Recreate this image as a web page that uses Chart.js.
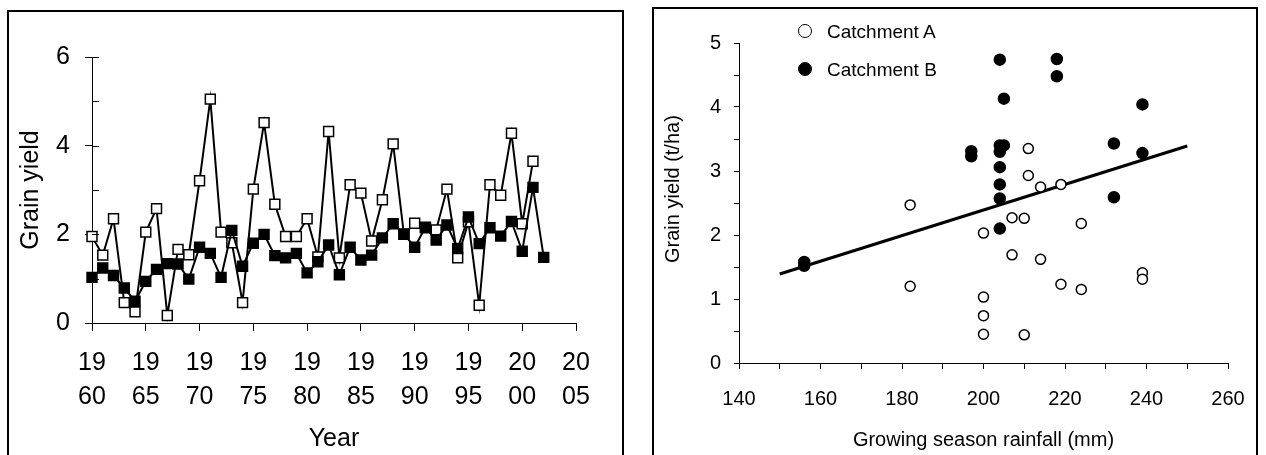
<!DOCTYPE html>
<html>
<head>
<meta charset="utf-8">
<script src="https://cdn.jsdelivr.net/npm/chart.js@4.4.1/dist/chart.umd.min.js"></script>
<style>
  html, body { margin: 0; padding: 0; background: #fff; overflow: hidden; }
  body { width: 1266px; height: 455px; position: relative; font-family: "Liberation Sans", Arial, sans-serif; }
  .box { position: absolute; box-sizing: border-box; border: 2px solid #000; height: 500px; }
  canvas { position: absolute; top: 0; }
  .leg { position: absolute; left: 798px; font-size: 19px; line-height: 20px; color: #000; }
  .leg span.dot { position: absolute; left: 0; top: 0; width: 14px; height: 14px; border-radius: 50%; box-sizing: border-box; border: 1.5px solid #000; }
  .leg span.txt { position: absolute; left: 29px; top: -2px; white-space: nowrap; }
</style>
</head>
<body>
<div class="box" style="left:7px; top:10px; width:617px;"></div>
<div class="box" style="left:652px; top:7px; width:606px;"></div>
<canvas id="yieldByYear" width="640" height="455" style="left:0"></canvas>
<canvas id="yieldVsRain" width="626" height="455" style="left:640px"></canvas>
<div class="leg" style="top:24px"><span class="dot" style="background:#fff"></span><span class="txt">Catchment A</span></div>
<div class="leg" style="top:62px"><span class="dot" style="background:#000"></span><span class="txt">Catchment B</span></div>
<script>
// left panel: grain yield per year
const years = [1960, 1961, 1962, 1963, 1964, 1965, 1966, 1967, 1968, 1969,
  1970, 1971, 1972, 1973, 1974, 1975, 1976, 1977, 1978, 1979,
  1980, 1981, 1982, 1983, 1984, 1985, 1986, 1987, 1988, 1989,
  1990, 1991, 1992, 1993, 1994, 1995, 1996, 1997, 1998, 1999,
  2000, 2001, 2002];
const openYield = [1.95, 1.53, 2.35, 0.46, 0.25, 2.05, 2.58, 0.17, 1.66, 1.54,
  3.21, 5.05, 2.05, 1.81, 0.46, 3.02, 4.52, 2.68, 1.95, 1.95,
  2.35, 1.49, 4.32, 1.47, 3.12, 2.93, 1.85, 2.78, 4.04, 2.00,
  2.25, 2.15, 2.10, 3.02, 1.47, 2.28, 0.40, 3.12, 2.88, 4.28,
  2.24, 3.65, null];
const filledYield = [1.03, 1.24, 1.07, 0.79, 0.49, 0.94, 1.21, 1.34, 1.33, 0.99,
  1.71, 1.57, 1.03, 2.09, 1.28, 1.80, 2.00, 1.52, 1.47, 1.57,
  1.13, 1.38, 1.76, 1.09, 1.71, 1.42, 1.53, 1.92, 2.24, 2.01,
  1.71, 2.16, 1.87, 2.21, 1.68, 2.39, 1.79, 2.15, 1.96, 2.29,
  1.62, 3.06, 1.48];

// right panel: yield vs growing season rainfall
const rainA = [182, 182, 200, 200, 200, 200, 207, 207, 211, 211, 214, 219, 210, 224, 214, 219, 224, 239, 239, 210];
const yieldA = [2.47, 1.20, 2.03, 1.03, 0.74, 0.45, 2.27, 1.69, 3.35, 2.93, 2.75, 2.79, 2.26, 2.18, 1.62, 1.23, 1.15, 1.41, 1.31, 0.44];
const rainB = [156, 156, 197, 197, 204, 204, 204, 204, 204, 204, 204, 205, 205, 218, 218, 232, 232, 239, 239];
const yieldB = [1.58, 1.52, 3.31, 3.23, 4.74, 3.40, 3.30, 3.06, 2.79, 2.57, 2.10, 4.13, 3.40, 4.75, 4.48, 3.43, 2.59, 4.04, 3.28];
const trendRain = [150, 250];
const trendYield = [1.39, 3.39];

const FONT = '"Liberation Sans", Arial, sans-serif';
Chart.defaults.font.family = FONT;
Chart.defaults.color = '#000';

function pts(xs, ys) {
  return xs.map((x, i) => ({ x: x, y: ys[i] }));
}

// small tick marks on the inner side of the y axis
const innerTicks = {
  id: 'innerTicks',
  afterDraw(chart, args, opts) {
    if (!opts.len) return;
    const y = chart.scales.y;
    const ctx = chart.ctx;
    ctx.save();
    ctx.strokeStyle = '#000';
    ctx.lineWidth = 1;
    y.ticks.forEach(t => {
      const py = Math.round(y.getPixelForValue(t.value)) + 0.5;
      ctx.beginPath();
      ctx.moveTo(y.right, py);
      ctx.lineTo(y.right + opts.len, py);
      ctx.stroke();
    });
    ctx.restore();
  }
};

new Chart(document.getElementById('yieldByYear'), {
  type: 'line',
  data: {
    datasets: [
      {
        data: pts(years, filledYield),
        borderColor: '#000', borderWidth: 2,
        pointStyle: 'rect', pointRadius: 7, pointBorderWidth: 1.5,
        pointBackgroundColor: '#000', pointBorderColor: '#000',
        tension: 0, clip: false
      },
      {
        data: pts(years, openYield),
        borderColor: '#000', borderWidth: 2,
        pointStyle: 'rect', pointRadius: 7, pointBorderWidth: 1.5,
        pointBackgroundColor: '#fff', pointBorderColor: '#000',
        tension: 0, clip: false
      }
    ]
  },
  options: {
    responsive: false,
    animation: false,
    layout: { padding: { left: 0, top: 57, right: 64, bottom: 0 } },
    plugins: { legend: { display: false }, tooltip: { enabled: false }, innerTicks: { len: 7 } },
    scales: {
      x: {
        type: 'linear', min: 1960, max: 2005,
        afterFit(s) { s.height = 132; },
        border: { display: true, color: '#000', width: 1 },
        grid: { drawOnChartArea: false, tickLength: 8, color: '#000' },
        ticks: {
          stepSize: 5, autoSkip: false, maxRotation: 0, padding: 15,
          font: { size: 25, lineHeight: 1.36 },
          callback: v => [String(v).slice(0, 2), String(v).slice(2)]
        },
        title: { display: true, text: 'Year', font: { size: 25 }, padding: { top: 0, bottom: 1 } }
      },
      y: {
        min: 0, max: 6,
        afterFit(s) { s.width = 92; },
        border: { display: true, color: '#000', width: 1 },
        grid: {
          drawOnChartArea: false, tickLength: 7, color: '#000',
          tickColor: c => (c.tick && c.tick.value % 2 === 0) ? '#000' : 'rgba(0,0,0,0)'
        },
        ticks: {
          stepSize: 1, padding: 15, font: { size: 25 },
          callback: v => (v % 2 === 0 ? String(v) : '')
        },
        title: { display: true, text: 'Grain yield', font: { size: 25 }, padding: { top: 16, bottom: 0 } }
      }
    }
  },
  plugins: [innerTicks]
});

new Chart(document.getElementById('yieldVsRain'), {
  type: 'scatter',
  data: {
    datasets: [
      {
        data: pts(rainB, yieldB),
        pointRadius: 5.5, pointBorderWidth: 1.5,
        pointBackgroundColor: '#000', pointBorderColor: '#000', clip: false
      },
      {
        data: pts(rainA, yieldA),
        pointRadius: 5, pointBorderWidth: 1.5,
        pointBackgroundColor: '#fff', pointBorderColor: '#000', clip: false
      },
      {
        type: 'line',
        data: pts(trendRain, trendYield),
        borderColor: '#000', borderWidth: 3, pointRadius: 0, tension: 0
      }
    ]
  },
  options: {
    responsive: false,
    animation: false,
    layout: { padding: { left: 0, top: 43, right: 38, bottom: 0 } },
    plugins: { legend: { display: false }, tooltip: { enabled: false } },
    scales: {
      x: {
        type: 'linear', min: 140, max: 260,
        afterFit(s) { s.height = 92; },
        border: { display: true, color: '#000', width: 1 },
        grid: { drawOnChartArea: false, tickLength: 6, color: '#000' },
        ticks: {
          stepSize: 10, autoSkip: false, maxRotation: 0, padding: 18,
          font: { size: 20 },
          callback: v => (v % 20 === 0 ? String(v) : '')
        },
        title: { display: true, text: 'Growing season rainfall (mm)', font: { size: 20 }, padding: { top: 0, bottom: 3 } }
      },
      y: {
        type: 'linear', min: 0, max: 5,
        afterFit(s) { s.width = 99; },
        border: { display: true, color: '#000', width: 1 },
        grid: { drawOnChartArea: false, tickLength: 5, color: '#000' },
        ticks: {
          stepSize: 0.5, padding: 13, font: { size: 20 },
          callback: v => (Number.isInteger(v) ? String(v) : '')
        },
        // leading spaces nudge the title up a little, as in the original
        title: { display: true, text: '     Grain yield (t/ha)', font: { size: 20 }, padding: { top: 21, bottom: 0 } }
      }
    }
  }
});
</script>
</body>
</html>
